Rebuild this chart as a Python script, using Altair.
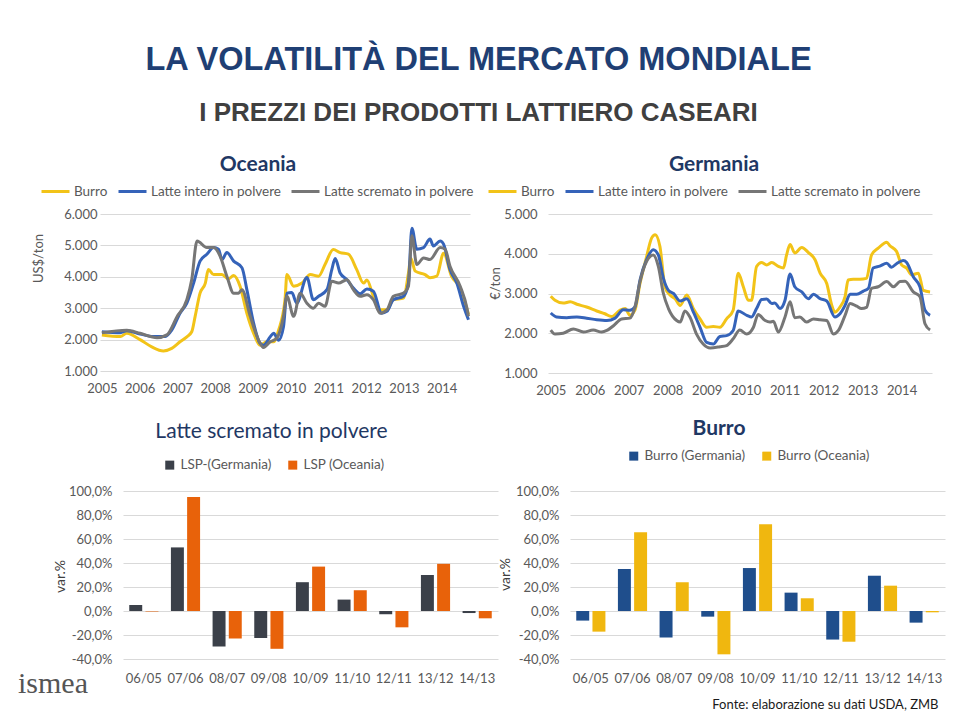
import altair as alt
import pandas as pd

FONT = "Lato"
LAB = "#595959"
GRID = "#D9D9D9"
NAVY = "#1F3864"

ANNI = list(range(2005, 2015))
SERIE = ["Burro", "Latte intero in polvere", "Latte scremato in polvere"]
LINE_COLORS = ["#F2C318", "#3563B9", "#767676"]

# ---------------- Oceania (US$/ton) ----------------
oc_burro_x = [2005.00, 2005.49, 2005.66, 2006.01, 2006.32, 2006.63, 2006.85, 2007.07, 2007.25, 2007.38,
              2007.47, 2007.60, 2007.74, 2007.82, 2007.96, 2008.18, 2008.35, 2008.49, 2008.66, 2008.84,
              2009.02, 2009.19, 2009.37, 2009.55, 2009.68, 2009.85, 2009.90, 2010.08, 2010.30, 2010.52,
              2010.74, 2010.91, 2011.13, 2011.31, 2011.53, 2011.75, 2011.93, 2012.02, 2012.19, 2012.37,
              2012.55, 2012.72, 2012.99, 2013.12, 2013.18, 2013.30, 2013.56, 2013.69, 2013.87, 2014.05,
              2014.26, 2014.49, 2014.71]
oc_burro_y = [2150, 2100, 2200, 2000, 1770, 1640, 1720, 1930, 2090, 2250,
              2740, 3480, 3800, 4230, 4070, 4070, 3930, 4040, 3700, 2840,
              2200, 1820, 1930, 1930, 2300, 3270, 4070, 3700, 3800, 4070,
              4020, 4390, 4870, 4770, 4720, 4230, 3800, 3900, 3380, 2950,
              2950, 3270, 3320, 4120, 4600, 4180, 4070, 3970, 4020, 4750,
              4020, 3650, 2800]

oc_wmp_x = [2005.00, 2005.49, 2005.66, 2006.01, 2006.37, 2006.68, 2006.85, 2007.07, 2007.25, 2007.43,
            2007.60, 2007.78, 2007.96, 2008.09, 2008.18, 2008.31, 2008.49, 2008.71, 2008.84, 2009.02,
            2009.19, 2009.28, 2009.46, 2009.55, 2009.68, 2009.81, 2009.90, 2010.03, 2010.16, 2010.43,
            2010.60, 2010.74, 2010.96, 2011.09, 2011.18, 2011.31, 2011.49, 2011.66, 2011.84, 2012.02,
            2012.19, 2012.41, 2012.55, 2012.72, 2012.99, 2013.12, 2013.21, 2013.34, 2013.52, 2013.69,
            2013.78, 2013.96, 2014.05, 2014.22, 2014.40, 2014.58, 2014.71]
oc_wmp_y = [2250, 2220, 2280, 2180, 2100, 2100, 2300, 2840, 3160, 3800,
            4500, 4720, 4930, 4880, 4550, 4770, 4500, 4290, 3590, 2520,
            1880, 1820, 2090, 2200, 1980, 2410, 3480, 3500, 3160, 3980,
            3270, 3380, 3590, 4230, 4580, 4120, 3910, 3640, 3460, 3610,
            3540, 2840, 2900, 3270, 3380, 3800, 5550, 4880, 4930, 5200,
            4980, 5140, 5040, 4230, 3800, 3060, 2630]

oc_smp_x = [2005.00, 2005.66, 2006.01, 2006.46, 2006.72, 2006.99, 2007.25, 2007.38, 2007.52, 2007.78,
            2007.96, 2008.13, 2008.31, 2008.49, 2008.62, 2008.71, 2008.93, 2009.15, 2009.28, 2009.46,
            2009.63, 2009.81, 2009.90, 2010.08, 2010.25, 2010.43, 2010.60, 2010.74, 2010.91, 2011.09,
            2011.27, 2011.49, 2011.66, 2011.84, 2012.02, 2012.19, 2012.37, 2012.55, 2012.72, 2012.99,
            2013.12, 2013.21, 2013.34, 2013.52, 2013.69, 2013.96, 2014.09, 2014.22, 2014.49, 2014.67,
            2014.71]
oc_smp_y = [2220, 2300, 2200, 2060, 2150, 2730, 3270, 3910, 5140, 4930,
            4930, 4660, 4020, 3480, 3480, 3590, 2740, 1985, 1750, 1930,
            2040, 2740, 3380, 2740, 3480, 3160, 3000, 3160, 3060, 3860,
            3800, 3910, 3590, 3380, 3430, 3270, 2840, 2950, 3380, 3480,
            3700, 5310, 4390, 4600, 4550, 4930, 4880, 4340, 3700, 3000,
            2740]

# ---------------- Germania (EUR/ton) ----------------
de_burro_x = [2005.00, 2005.11, 2005.32, 2005.50, 2005.67, 2005.92, 2006.18, 2006.39, 2006.56, 2006.78,
              2006.91, 2007.03, 2007.16, 2007.29, 2007.46, 2007.59, 2007.68, 2007.80, 2007.93, 2008.06,
              2008.19, 2008.32, 2008.49, 2008.66, 2008.83, 2009.00, 2009.17, 2009.34, 2009.51, 2009.68,
              2009.81, 2009.94, 2010.07, 2010.15, 2010.28, 2010.41, 2010.54, 2010.67, 2010.84, 2010.97,
              2011.05, 2011.14, 2011.26, 2011.44, 2011.61, 2011.78, 2011.91, 2012.08, 2012.21, 2012.29,
              2012.42, 2012.55, 2012.63, 2012.76, 2012.93, 2013.10, 2013.23, 2013.40, 2013.62, 2013.70,
              2013.87, 2014.00, 2014.13, 2014.26, 2014.43, 2014.56, 2014.73]
de_burro_y = [2930, 2830, 2760, 2790, 2730, 2660, 2560, 2490, 2420, 2580,
              2620, 2450, 2580, 3250, 3930, 4400, 4480, 4190, 3170, 2960,
              2870, 2700, 2960, 2620, 2360, 2150, 2170, 2150, 2360, 2580,
              3510, 3170, 2830, 2830, 3680, 3780, 3720, 3780, 3680, 3640,
              3970, 4230, 4020, 4160, 4030, 3850, 3510, 3250, 2700, 2530,
              2660, 2920, 3340, 3360, 3360, 3380, 3970, 4140, 4290, 4200,
              4060, 3720, 3640, 3470, 3510, 3080, 3040]

de_wmp_x = [2005.00, 2005.15, 2005.41, 2005.67, 2005.92, 2006.18, 2006.44, 2006.65, 2006.86, 2007.03,
            2007.16, 2007.29, 2007.46, 2007.63, 2007.76, 2007.89, 2008.02, 2008.15, 2008.32, 2008.49,
            2008.66, 2008.83, 2009.00, 2009.17, 2009.34, 2009.51, 2009.68, 2009.81, 2010.03, 2010.15,
            2010.28, 2010.41, 2010.54, 2010.67, 2010.75, 2010.88, 2011.01, 2011.14, 2011.26, 2011.44,
            2011.61, 2011.74, 2011.91, 2012.08, 2012.29, 2012.42, 2012.55, 2012.68, 2012.85, 2013.02,
            2013.15, 2013.27, 2013.44, 2013.62, 2013.74, 2013.87, 2014.04, 2014.13, 2014.30, 2014.47,
            2014.60, 2014.73]
de_wmp_y = [2510, 2410, 2390, 2410, 2380, 2340, 2320, 2380, 2590, 2580,
            2660, 3340, 3850, 4100, 3970, 3380, 3080, 3000, 2810, 2870,
            2530, 2150, 1770, 1730, 1920, 1940, 2070, 2560, 2450, 2410,
            2620, 2850, 2860, 2750, 2760, 2620, 2830, 3490, 3170, 3040,
            2870, 2980, 2870, 2810, 2410, 2490, 2700, 2980, 2980, 3060,
            3130, 3640, 3690, 3760, 3660, 3750, 3830, 3780, 3420, 3170,
            2580, 2450]

de_smp_x = [2005.00, 2005.11, 2005.32, 2005.58, 2005.84, 2006.09, 2006.31, 2006.44, 2006.61, 2006.82,
            2007.03, 2007.16, 2007.29, 2007.46, 2007.63, 2007.76, 2007.89, 2008.02, 2008.23, 2008.32,
            2008.44, 2008.57, 2008.74, 2008.91, 2009.09, 2009.34, 2009.51, 2009.68, 2009.85, 2010.03,
            2010.20, 2010.32, 2010.50, 2010.62, 2010.71, 2010.84, 2011.01, 2011.14, 2011.26, 2011.39,
            2011.56, 2011.74, 2011.91, 2012.08, 2012.25, 2012.38, 2012.55, 2012.68, 2012.85, 2012.97,
            2013.10, 2013.23, 2013.40, 2013.62, 2013.79, 2013.96, 2014.09, 2014.30, 2014.47, 2014.60,
            2014.73]
de_smp_y = [2080, 1980, 2000, 2110, 2030, 2080, 2030, 2070, 2190, 2360,
            2380, 2660, 3300, 3810, 3970, 3680, 3000, 2620, 2320, 2280,
            2560, 2410, 1980, 1730, 1630, 1660, 1690, 1860, 2080, 1980,
            2150, 2470, 2320, 2280, 2300, 2030, 2410, 2790, 2390, 2410,
            2280, 2360, 2340, 2320, 1980, 2070, 2450, 2750, 2680, 2620,
            2650, 3130, 3170, 3300, 3170, 3300, 3310, 3040, 2920, 2240,
            2080]

# ---------------- variazioni annue (%) ----------------
PERIODI = ["06/05", "07/06", "08/07", "09/08", "10/09", "11/10", "12/11", "13/12", "14/13"]
LSP_NOMI = ["LSP-(Germania)", "LSP (Oceania)"]
lsp_germania = [5.0, 53.0, -29.5, -22.5, 24.0, 9.5, -2.7, 30.0, -1.7]
lsp_oceania = [-0.4, 95.0, -23.0, -31.5, 37.0, 17.3, -13.6, 39.3, -6.1]
BUR_NOMI = ["Burro (Germania)", "Burro (Oceania)"]
burro_germania = [-8.0, 35.0, -22.0, -4.7, 35.8, 15.3, -23.8, 29.4, -9.7]
burro_oceania = [-17.2, 65.6, 23.9, -36.1, 72.2, 10.6, -25.6, 21.1, -1.1]


def long_lines(parts):
    rows = []
    for name, xs, ys in parts:
        for x, y in zip(xs, ys):
            rows.append({"anno": x, "prezzo": y, "serie": name})
    return pd.DataFrame(rows)


def long_bars(names, a, b):
    rows = []
    for p, va, vb in zip(PERIODI, a, b):
        rows.append({"periodo": p, "paese": names[0], "var": va})
        rows.append({"periodo": p, "paese": names[1], "var": vb})
    return pd.DataFrame(rows)


THOUSANDS = "replace(format(datum.value, ','), ',', '.')"
PCT = "(datum.value < 0 ? '-' : '') + replace(format(abs(datum.value), '.1f'), '.', ',') + '%'"


def line_panel(df, title, ytitle, ymax, xdom, w, h, ytx, yty, ylabpad, legx, tdx):
    yvals = list(range(1000, ymax + 1, 1000))
    return alt.Chart(df).mark_line(strokeWidth=3, interpolate="monotone").encode(
        x=alt.X("anno:Q", scale=alt.Scale(domain=xdom, nice=False, zero=False),
                axis=alt.Axis(values=ANNI, format="d", grid=False, ticks=False, domain=False,
                              labelPadding=11, title=None, labelFlush=False)),
        y=alt.Y("prezzo:Q", scale=alt.Scale(domain=[1000, ymax], nice=False, zero=False),
                axis=alt.Axis(values=yvals, labelExpr=THOUSANDS, ticks=False, domain=False,
                              grid=True, gridColor=GRID, labelPadding=ylabpad, title=ytitle,
                              titleX=ytx, titleY=yty, titleBaseline="middle", titleAlign="center",
                              titleFontSize=13, titleFontWeight="normal", titleColor=LAB)),
        color=alt.Color("serie:N", scale=alt.Scale(domain=SERIE, range=LINE_COLORS),
                        legend=alt.Legend(orient="none", legendX=legx, legendY=-38,
                                          direction="horizontal", title=None, symbolType="stroke",
                                          symbolSize=784, symbolStrokeWidth=3, labelOffset=3,
                                          columnPadding=4, labelFontSize=13.5, labelColor=LAB,
                                          labelFont=FONT)),
    ).properties(
        width=w, height=h,
        title=alt.TitleParams(title, fontSize=21, font=FONT, fontWeight="bold", color=NAVY,
                              anchor="middle", frame="group", dx=tdx, offset=1),
    )


def bar_panel(df, title, names, colors, legx, legy, tdx, toff, ytx, yty, tweight, colpad,
              xtitle=None):
    xaxis = dict(labelAngle=0, ticks=False, domain=False, labelPadding=13, labelFontSize=13)
    if xtitle:
        xaxis.update(title=xtitle, titleX=368, titleY=45, titleAlign="right",
                     titleBaseline="middle", titleFontSize=13, titleFontWeight="normal",
                     titleColor="#1a1a1a", titleFont=FONT)
    else:
        xaxis.update(title=None)
    return alt.Chart(df).mark_bar().encode(
        x=alt.X("periodo:N", sort=PERIODI,
                scale=alt.Scale(paddingInner=0.3, paddingOuter=0.15),
                axis=alt.Axis(**xaxis)),
        xOffset=alt.XOffset("paese:N", sort=names, scale=alt.Scale(paddingInner=0.2, paddingOuter=0)),
        y=alt.Y("var:Q", scale=alt.Scale(domain=[-40, 100], nice=False),
                axis=alt.Axis(values=[-40, -20, 0, 20, 40, 60, 80, 100], labelExpr=PCT,
                              ticks=False, domain=False, grid=True, gridColor=GRID,
                              labelPadding=11, labelFontSize=13, title="var.%",
                              titleX=ytx, titleY=yty, titleBaseline="middle",
                              titleAlign="center", titleFontSize=14, titleFontWeight="normal",
                              titleColor="#404040")),
        color=alt.Color("paese:N", scale=alt.Scale(domain=names, range=colors),
                        legend=alt.Legend(orient="none", legendX=legx, legendY=legy,
                                          direction="horizontal", title=None, symbolType="square",
                                          symbolSize=81, symbolStrokeWidth=0, labelOffset=4,
                                          columnPadding=colpad, labelFontSize=13.5, labelColor=LAB,
                                          labelFont=FONT)),
    ).properties(
        width=375, height=168,
        title=alt.TitleParams(title, fontSize=21, font=FONT, fontWeight=tweight, color=NAVY,
                              anchor="middle", frame="group", dx=tdx, offset=toff),
    )


def spacer(w):
    return alt.Chart(pd.DataFrame({"s": [0]})).mark_point(opacity=0).properties(width=w, height=1)


oceania = line_panel(
    long_lines([("Burro", oc_burro_x, oc_burro_y),
                ("Latte intero in polvere", oc_wmp_x, oc_wmp_y),
                ("Latte scremato in polvere", oc_smp_x, oc_smp_y)]),
    "Oceania", "US$/ton", 6000, [2004.95, 2014.75], 370, 157, -62, 44, 3, -60, -27)

germania = line_panel(
    long_lines([("Burro", de_burro_x, de_burro_y),
                ("Latte intero in polvere", de_wmp_x, de_wmp_y),
                ("Latte scremato in polvere", de_smp_x, de_smp_y)]),
    "Germania", "€/ton", 5000, [2004.93, 2014.78], 384, 159, -53, 69, 11, -61, -26)

lsp = bar_panel(long_bars(LSP_NOMI, lsp_germania, lsp_oceania), "Latte scremato in polvere",
                LSP_NOMI, ["#3B4049", "#E8620A"], 40, -33, -39, 16, -63, 85, "normal", 14)

logo = alt.Chart(pd.DataFrame({"t": ["ismea"]})).mark_text(
    font="Liberation Serif", fontSize=30, color="#555555", align="center", baseline="middle"
).encode(text="t:N", x=alt.value(-70), y=alt.value(193))

lsp_layer = alt.layer(lsp, logo)

burro = bar_panel(long_bars(BUR_NOMI, burro_germania, burro_oceania), "Burro",
                  BUR_NOMI, ["#1F4E8C", "#F0B70F"], 57, -42, -38.5, 10, -65, 83, "bold", 14,
                  xtitle="Fonte: elaborazione su dati USDA, ZMB")

top_row = alt.hconcat(oceania, spacer(78), germania, spacing=0, bounds="flush").resolve_scale(
    color="independent", x="independent", y="independent").resolve_legend(color="independent")
bottom_row = alt.hconcat(spacer(23), lsp_layer, spacer(72), burro, spacing=0, bounds="flush").resolve_scale(
    color="independent", x="independent", y="independent", xOffset="independent").resolve_legend(color="independent")

chart = alt.vconcat(top_row, bottom_row, spacing=277, bounds="flush").resolve_scale(
    color="independent", x="independent", y="independent"
).properties(
    title=alt.TitleParams("LA VOLATILITÀ DEL MERCATO MONDIALE",
                          subtitle="I PREZZI DEI PRODOTTI LATTIERO CASEARI",
                          font="Liberation Sans", fontSize=32.5, fontWeight="bold", color="#1F3F74",
                          subtitleFont="Liberation Sans", subtitleFontSize=26,
                          subtitleFontWeight="bold", subtitleColor="#404040",
                          subtitlePadding=23.5, anchor="middle", offset=28, dx=-3),
    padding={"left": 10, "top": 36, "right": 4, "bottom": 0},
).configure_view(stroke=None).configure_axis(
    labelFont=FONT, labelColor=LAB, labelFontSize=13, titleFont=FONT
)

chart.save("out.html", embed_options={"renderer": "svg", "actions": False})
